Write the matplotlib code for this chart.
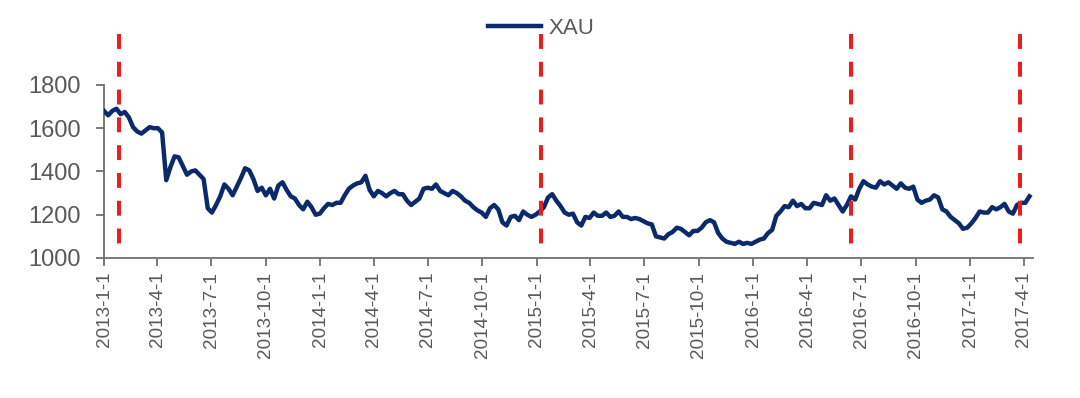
#!/usr/bin/env python3
"""XAU weekly price 2013-01 .. 2017-04 with red dashed event markers."""

import matplotlib

matplotlib.use("Agg")
import matplotlib.pyplot as plt
import pandas as pd

# weekly (Tuesday) readings, one list per year
XAU_2013 = [
    1680, 1660, 1680, 1690, 1665, 1675, 1650, 1605, 1585, 1575, 1590, 1605, 1600,
    1600, 1580, 1360, 1420, 1470, 1465, 1425, 1385, 1400, 1405, 1385, 1365, 1230,
    1210, 1245, 1285, 1340, 1320, 1290, 1330, 1370, 1415, 1405, 1365, 1310, 1325,
    1290, 1320, 1275, 1335, 1350, 1315, 1285, 1275, 1245, 1225, 1260, 1235, 1200,
    1205,
]
XAU_2014 = [
    1230, 1250, 1245, 1255, 1255, 1290, 1320, 1335, 1345, 1350, 1380, 1315, 1285,
    1310, 1300, 1285, 1300, 1310, 1295, 1295, 1265, 1245, 1260, 1275, 1320, 1325,
    1320, 1340, 1310, 1300, 1290, 1310, 1300, 1285, 1265, 1255, 1235, 1220, 1210,
    1190, 1230, 1245, 1225, 1165, 1150, 1190, 1195, 1175, 1215, 1200, 1190, 1200,
]
XAU_2015 = [
    1215, 1235, 1280, 1295, 1265, 1240, 1210, 1200, 1205, 1165, 1150, 1190, 1185,
    1210, 1195, 1195, 1210, 1190, 1195, 1215, 1190, 1190, 1180, 1185, 1180, 1170,
    1160, 1155, 1100, 1095, 1090, 1110, 1120, 1140, 1135, 1120, 1105, 1125, 1125,
    1140, 1165, 1175, 1165, 1115, 1090, 1075, 1070, 1065, 1075, 1065, 1070, 1065,
]
XAU_2016 = [
    1075, 1085, 1090, 1115, 1130, 1195, 1215, 1240, 1235, 1265, 1240, 1250, 1230,
    1230, 1255, 1250, 1245, 1290, 1265, 1275, 1245, 1215, 1245, 1285, 1270, 1320,
    1355, 1340, 1330, 1325, 1355, 1340, 1350, 1335, 1320, 1345, 1325, 1320, 1330,
    1270, 1255, 1265, 1270, 1290, 1280, 1225, 1215, 1190, 1175, 1160, 1135, 1140,
]
XAU_2017 = [
    1160, 1185, 1215, 1210, 1210, 1235, 1225, 1235, 1250, 1215, 1205, 1245, 1255,
    1255, 1285,
]
XAU = XAU_2013 + XAU_2014 + XAU_2015 + XAU_2016 + XAU_2017
DATES = pd.date_range("2013-01-01", periods=len(XAU), freq="7D")

EVENT_DATES = ["2013-01-26", "2015-01-08", "2016-06-14", "2017-03-26"]
TICK_DATES = pd.date_range("2013-01-01", "2017-04-01", freq="QS")

NAVY = "#0c2a6b"
RED = "#e5201e"
GRAY = "#595959"


def main() -> None:
    plt.rcParams["font.family"] = ["Liberation Sans", "DejaVu Sans"]

    fig = plt.figure(figsize=(10.8, 3.98), dpi=100)
    ax = fig.add_axes([0.0963, 0.3518, 0.8602, 0.4347])

    ax.plot(DATES, XAU, color=NAVY, linewidth=3.2, label="XAU", zorder=3,
            solid_joinstyle="round")

    # event markers run past the top of the plot area, like in the source
    for d in EVENT_DATES:
        dt = pd.Timestamp(d)
        ax.plot([dt, dt], [2035, 1037], color=RED, linewidth=2.9,
                dashes=(3.7, 3.2), clip_on=False, zorder=4)

    ax.set_xlim(pd.Timestamp("2013-01-01"), pd.Timestamp("2017-04-17"))
    ax.set_ylim(1000, 1800)
    ax.set_yticks(range(1000, 1801, 200))
    ax.set_xticks(TICK_DATES)
    ax.set_xticklabels([f"{t.year}-{t.month}-{t.day}" for t in TICK_DATES],
                       rotation=90)

    for side in ("top", "right"):
        ax.spines[side].set_visible(False)
    for side in ("left", "bottom"):
        ax.spines[side].set_color("#6f6f6f")
        ax.spines[side].set_linewidth(1.3)
    ax.tick_params(axis="x", direction="out", length=6, width=1.3,
                   color="#6f6f6f", labelsize=13.6, labelcolor=GRAY, pad=4)
    ax.tick_params(axis="y", direction="out", length=6, width=1.3,
                   color="#6f6f6f", labelsize=17, labelcolor=GRAY, pad=11)

    leg = fig.legend(loc="center", bbox_to_anchor=(0.501, 0.928), frameon=False,
                     fontsize=16, handlelength=2.4, handletextpad=0.3)
    for t in leg.get_texts():
        t.set_color(GRAY)

    fig.savefig("out.png", dpi=100)
    plt.close(fig)


if __name__ == "__main__":
    main()
